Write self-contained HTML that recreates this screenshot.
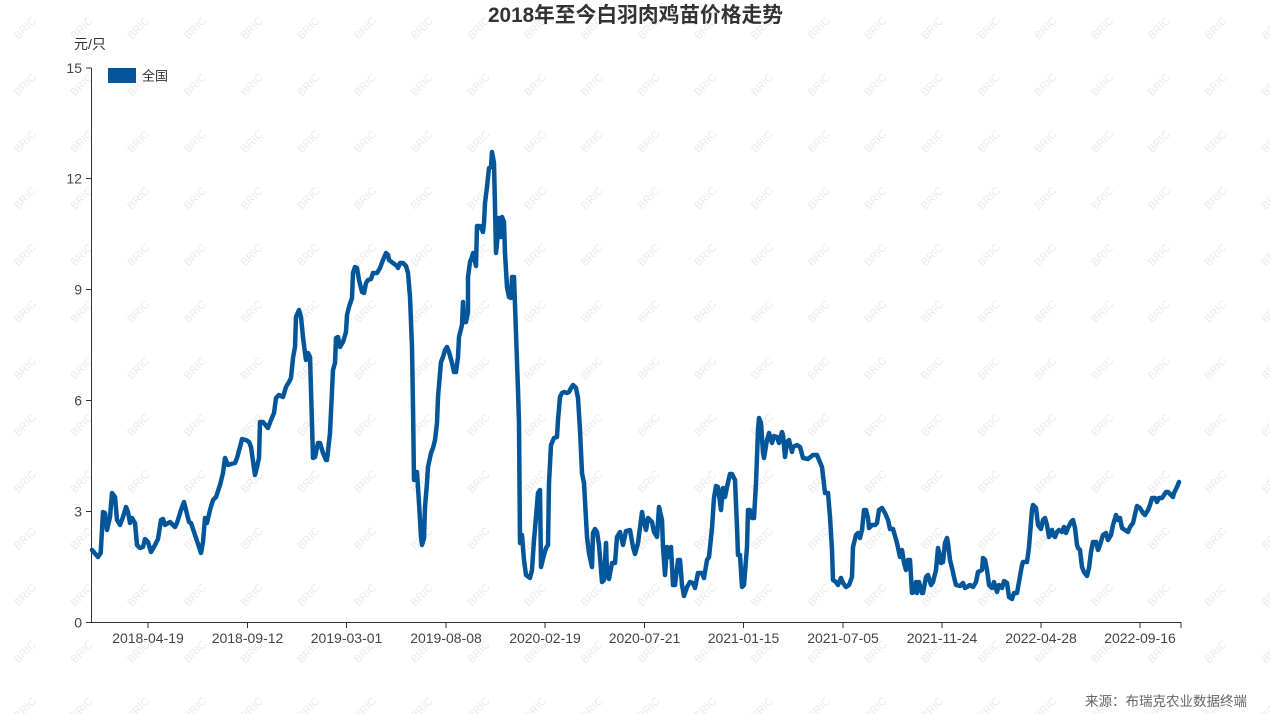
<!DOCTYPE html>
<html>
<head>
<meta charset="utf-8">
<style>
  html, body { margin: 0; padding: 0; background: #ffffff; }
  svg { display: block; }
  text { font-family: "Liberation Sans", "Noto Sans CJK SC", sans-serif; }
</style>
</head>
<body>
<svg width="1270" height="714" viewBox="0 0 1270 714" xmlns="http://www.w3.org/2000/svg">
  <defs>
    <pattern id="wm" patternUnits="userSpaceOnUse" x="-3.35" y="-0.35" width="56.7" height="56.7">
      <text x="28.35" y="32" font-size="11" fill="#e9e9e9" text-anchor="middle" transform="rotate(-45 28.35 28.35)" font-family="Liberation Sans, sans-serif">BRIC</text>
    </pattern>
  </defs>
  <rect x="0" y="0" width="1270" height="714" fill="#ffffff"/>
  <rect x="0" y="0" width="1270" height="714" fill="url(#wm)"/>

  <!-- Title -->
  <text x="488" y="22" font-size="21" font-weight="bold" fill="#333333" textLength="295" lengthAdjust="spacingAndGlyphs">2018年至今白羽肉鸡苗价格走势</text>

  <!-- Y unit -->
  <text x="74" y="49" font-size="14" fill="#333333">元/只</text>

  <!-- Legend -->
  <rect x="108" y="68" width="28" height="15" fill="#04569a"/>
  <text x="142" y="80.5" font-size="13" fill="#333333">全国</text>

  <!-- Axes -->
  <g stroke="#333333" stroke-width="1" fill="none">
    <line x1="91.5" y1="68" x2="91.5" y2="623"/>
    <line x1="91" y1="622.5" x2="1181.5" y2="622.5"/>
    <line x1="86" y1="622.5" x2="91.5" y2="622.5"/>
    <line x1="86" y1="511.5" x2="91.5" y2="511.5"/>
    <line x1="86" y1="400.5" x2="91.5" y2="400.5"/>
    <line x1="86" y1="289.5" x2="91.5" y2="289.5"/>
    <line x1="86" y1="178.5" x2="91.5" y2="178.5"/>
    <line x1="86" y1="68" x2="91.5" y2="68"/>
    <line x1="148" y1="622.5" x2="148" y2="628"/>
    <line x1="247.5" y1="622.5" x2="247.5" y2="628"/>
    <line x1="346.5" y1="622.5" x2="346.5" y2="628"/>
    <line x1="446" y1="622.5" x2="446" y2="628"/>
    <line x1="545" y1="622.5" x2="545" y2="628"/>
    <line x1="644.5" y1="622.5" x2="644.5" y2="628"/>
    <line x1="743.5" y1="622.5" x2="743.5" y2="628"/>
    <line x1="843" y1="622.5" x2="843" y2="628"/>
    <line x1="942" y1="622.5" x2="942" y2="628"/>
    <line x1="1041" y1="622.5" x2="1041" y2="628"/>
    <line x1="1140" y1="622.5" x2="1140" y2="628"/>
    <line x1="1181" y1="622.5" x2="1181" y2="628"/>
  </g>

  <!-- Y tick labels -->
  <g font-size="14" fill="#444444" text-anchor="end">
    <text x="82" y="627.5">0</text>
    <text x="82" y="516.5">3</text>
    <text x="82" y="405.5">6</text>
    <text x="82" y="294.5">9</text>
    <text x="82" y="183.5">12</text>
    <text x="82" y="73">15</text>
  </g>

  <!-- X tick labels -->
  <g font-size="14" fill="#444444" text-anchor="middle">
    <text x="148" y="643">2018-04-19</text>
    <text x="247.5" y="643">2018-09-12</text>
    <text x="346.5" y="643">2019-03-01</text>
    <text x="446" y="643">2019-08-08</text>
    <text x="545" y="643">2020-02-19</text>
    <text x="644.5" y="643">2020-07-21</text>
    <text x="743.5" y="643">2021-01-15</text>
    <text x="843" y="643">2021-07-05</text>
    <text x="942" y="643">2021-11-24</text>
    <text x="1041" y="643">2022-04-28</text>
    <text x="1140" y="643">2022-09-16</text>
  </g>

  <!-- Series -->
  <polyline fill="none" stroke="#04569a" stroke-width="4.5" stroke-linejoin="round" stroke-linecap="round" points="
92,550 98,557 100.7,553 103,512 105,513 107,530 110,517 112,493 115,497 117,520 120,525 123,517 126,507 128,512 130,523 132,518 135,523 137,545 140,548 143,547 145,539 148,542 151,552 155,545 158,539 161,520 163,519 165,525 170,522 175,527 177,523 181,510 184,502 186,510 189,522 191,523 196,538 201,553 203,542 205,518 207,523 210,510 213,500 216,497 220,485 223,473 225,458 228,465 231,464 235,463 237,458 240,447 242,439 246,440 249,442 251,447 255,475 257,467 259,458 260,422 263,422 268,428 271,420 274,413 276,398 279,395 283,397 286,387 289,382 291,378 293,358 295,347 296,317 299,310 301,317 303,337 305,353 306,360 308,353 310,357 311,390 313,458 315,457 318,443 320,443 323,453 326,460 327,460
330,433 333,370 335,363 336,338 338,337 340,347 343,342 346,332 347,315 349,307 352,298 353,273 355,267 357,268 359,280 362,292 364,293 366,283 368,280 371,279 373,273 377,273 380,268 383,260 386,253 388,255 389,260 393,263 397,266 398,268 400,263 403,263 406,266 408,273 410,297 412,347 413,407 414,480 416,473 417,472 419,503 421,537 422,545 424,538 425,507 427,483 428,467 431,453 433,448 435,440 437,423 438,397 441,362 443,357 445,350 447,347 449,352 452,363 454,372 456,372 458,357 459,337 462,325 463,302 464,322 466,322 468,312 468,277 470,262 472,257 473,253 476,266 477,226 480,226 483,232 484,223 485,203 487,187 489,168 491,167 492,152 494,163 495,207 496,253 498,233 499,218 501,237 502,217 504,222 505,253 507,287 509,297 511,298 512,277 514,277 516,333 518,390 519,423
520,543 522,535 524,560 526,575 530,578 532,570 534,540 536,517 538,493 540,490 541,567 544,555 546,548 548,545 549,483 551,445 554,438 557,437 558,420 560,397 562,393 564,392 567,393 569,392 571,388 573,385 576,388 578,398 580,430 582,473 584,483 587,537 589,553 592,567 593,533 595,529 597,532 599,545 602,582 604,580 606,543 607,573 609,579 612,563 615,563 617,537 620,532 623,545 626,531
630,530 633,547 635,554 638,543 642,512 643,518 646,530 648,518 652,522 654,532 657,537 659,507 662,520 663,547 665,575 667,547 669,557 671,547 673,585 675,585 678,560 680,560 682,585 684,596 687,587 690,582 693,583 695,588 698,573 702,573 704,578 707,560 709,557 712,528 714,498 716,486 718,487 721,510 723,488 725,497 727,487 730,474 732,474 735,480 737,527 738,555 740,555 742,587 744,585 747,547 748,510 750,510 752,518 754,518 756,483 758,430 759,418 761,423 763,453 764,458 767,440 769,433 772,443 774,436 777,437 779,443 782,432 783,435 785,457 787,442 789,440 792,452 793,447 797,445 800,447 803,458 808,459 813,455 817,455 819,460 822,467
825,493 828,493 830,517 832,550 833,580 836,582 838,585 841,578 843,583 846,587 849,585 852,577 853,547 856,535 858,533 860,538 862,530 864,510 866,510 868,518 869,528 872,525 875,525 877,523 879,510 882,508 885,513 888,520 890,529 893,529 897,543 900,557 902,550 904,563 906,570 908,560 910,560 912,593 914,592 916,582 917,593 919,582 922,593 923,593 926,577 928,575 931,585 933,582 936,570 938,548 939,552 941,563 943,562 945,543 947,538 948,543 950,560 952,568 954,577 956,585 960,586 963,583 965,588 967,587 970,585 973,587 976,582 978,572 982,570 983,558 985,560 987,570 989,585 992,588 994,582 997,592 999,585 1002,588 1004,581 1007,583 1009,597 1012,599 1014,593 1017,593
1022,565 1023,562 1027,562 1029,547 1032,510 1033,505 1036,508 1038,525 1041,529 1043,520 1045,518 1047,525 1049,537 1052,530 1053,535 1055,537 1057,532 1059,530 1062,532 1064,527 1066,533 1068,528 1071,522 1073,520 1075,528 1077,545 1078,548 1080,550 1082,567 1084,572 1087,576 1089,568 1091,552 1093,542 1096,542 1098,550 1100,545 1103,535 1106,533 1108,540 1111,535 1113,525 1116,515 1118,520 1120,518 1122,528 1125,530 1128,532 1130,527 1133,523 1137,506 1140,508 1143,513 1145,515 1148,510 1150,505 1152,498 1155,498 1157,502 1159,498 1162,498 1164,495 1166,492 1168,492 1171,495 1173,497 1174,493 1177,487 1179,482"/>

  <!-- Source -->
  <text x="1247" y="706" font-size="13.5" fill="#666666" text-anchor="end">来源：布瑞克农业数据终端</text>
</svg>
</body>
</html>
